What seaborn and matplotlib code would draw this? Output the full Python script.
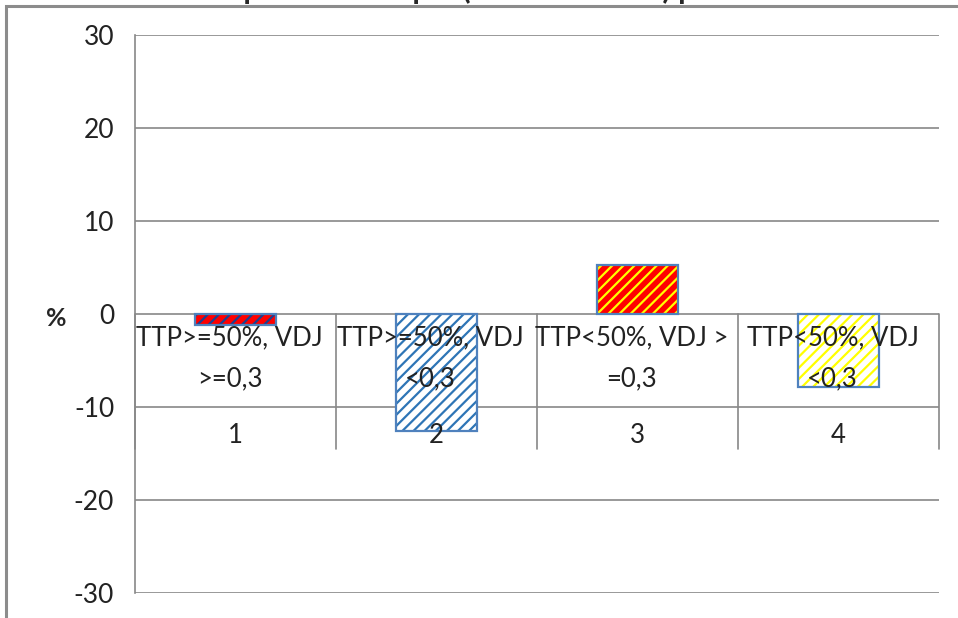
import matplotlib
matplotlib.use('Agg')
import matplotlib.pyplot as plt
import seaborn as sns
from matplotlib.patches import Rectangle

# Data
group_numbers = ['1', '2', '3', '4']
group_labels = ['TTP>=50%, VDJ\n>=0,3', 'TTP>=50%, VDJ\n<0,3',
                'TTP<50%, VDJ >\n=0,3', 'TTP<50%, VDJ\n<0,3']
values = [-1.2, -12.6, 5.3, -7.8]
y_ticks = [-30, -20, -10, 0, 10, 20, 30]

# bar styling (Excel-like hatch fills)
face_colors = ['#FF0000', '#FFFFFF', '#FF0000', '#FFFFFF']
hatch_colors = ['#1F3F8F', '#2E75B6', '#FFFF00', '#FFFF00']
outline_color = '#4F81BD'
grid_color = '#888888'

sns.set_style('white')
plt.rcParams['font.family'] = ['Lato', 'DejaVu Sans']
plt.rcParams['hatch.linewidth'] = 1.6

fig = plt.figure(figsize=(9.58, 6.18), dpi=100)
ax = fig.add_axes([135 / 958, 1 - 593 / 618, (939 - 135) / 958, (593 - 35) / 618])

sns.barplot(x=group_numbers, y=values, width=0.4, ax=ax, color='white', linewidth=0)

for i, p in enumerate(ax.patches):
    p.set_facecolor(face_colors[i])
    p.set_edgecolor(hatch_colors[i])
    p.set_hatch('///')
    p.set_linewidth(0)
    p.set_zorder(3)
    ax.add_patch(Rectangle(p.get_xy(), p.get_width(), p.get_height(), fill=False,
                           edgecolor=outline_color, linewidth=1.6, zorder=4))

ax.set_xlim(-0.5, 3.5)
ax.set_ylim(-30, 30)
ax.set_yticks(y_ticks)
ax.set_yticklabels([str(t) for t in y_ticks], fontsize=19, color='#222222')
ax.tick_params(axis='y', length=9, width=1.2, color=grid_color, pad=6)
ax.tick_params(axis='x', length=0, labelbottom=False)
ax.yaxis.grid(True, color=grid_color, linewidth=1.2, zorder=0)
ax.set_axisbelow(True)
for side in ['top', 'right', 'bottom']:
    ax.spines[side].set_visible(False)
ax.spines['left'].set_color(grid_color)
ax.spines['left'].set_linewidth(1.2)
ax.set_xlabel('')

# category table under the zero line
for k in range(len(group_numbers) + 1):
    ax.plot([k - 0.5, k - 0.5], [0, -14.5], color=grid_color, linewidth=1.2, zorder=1,
            clip_on=False)
for i, (lab, num) in enumerate(zip(group_labels, group_numbers)):
    ax.text(i - 0.03, -4.8, lab, ha='center', va='center', fontsize=18.5, linespacing=1.8,
            color='#222222', zorder=5)
    ax.text(i, -13.1, num, ha='center', va='center', fontsize=18.5, color='#222222', zorder=5)

fig.text(56 / 958, 1 - 318 / 618, '%', ha='center', va='center', fontsize=18,
         fontweight='bold')

# cut-off title at the very top of the picture
fig.text(0.0, 1 - 4 / 618, 'Graf č. 7: Index úspěšnosti skupin (dle TTP a VDJ) podle ukazatelů',
         ha='left', va='bottom', fontsize=22, fontweight='bold')

# outer chart frame
fig.patches.append(Rectangle((6 / 958, -0.1), 1.2, 1 - 6 / 618 + 0.1, transform=fig.transFigure,
                             fill=False, edgecolor='#8c8c8c', linewidth=2.2, zorder=5))

fig.savefig('out.png', dpi=100)
